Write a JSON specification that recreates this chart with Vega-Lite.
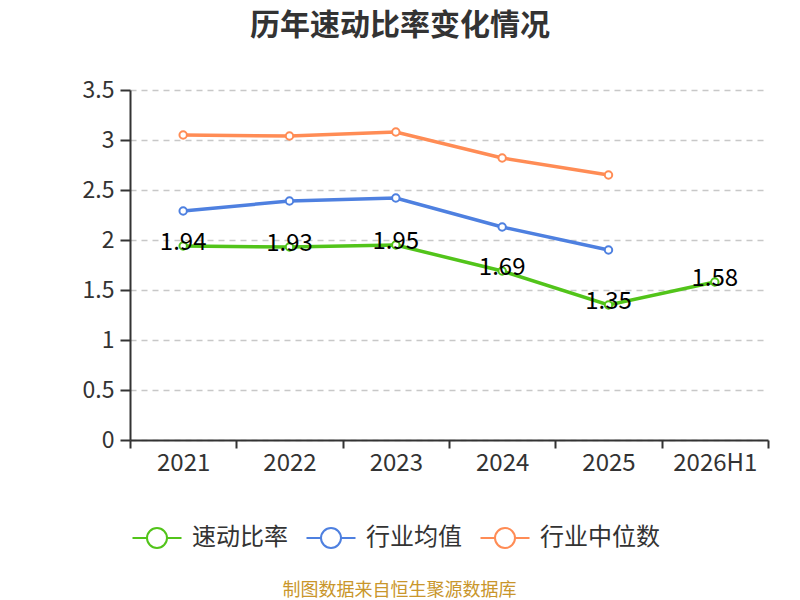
{
  "$schema": "https://vega.github.io/schema/vega-lite/v6.json",
  "width": 638,
  "height": 350,
  "autosize": {"type": "none"},
  "padding": {"left": 130, "top": 90, "right": 32, "bottom": 160},
  "background": "white",
  "title": {
    "text": "历年速动比率变化情况",
    "font": "Noto Sans CJK SC",
    "fontSize": 30,
    "fontWeight": "bold",
    "color": "#333333",
    "anchor": "middle",
    "dx": -49,
    "offset": 38
  },
  "data": {
    "values": [
      {"year": "2021", "series": "速动比率", "value": 1.94},
      {"year": "2022", "series": "速动比率", "value": 1.93},
      {"year": "2023", "series": "速动比率", "value": 1.95},
      {"year": "2024", "series": "速动比率", "value": 1.69},
      {"year": "2025", "series": "速动比率", "value": 1.35},
      {"year": "2026H1", "series": "速动比率", "value": 1.58},
      {"year": "2021", "series": "行业均值", "value": 2.29},
      {"year": "2022", "series": "行业均值", "value": 2.39},
      {"year": "2023", "series": "行业均值", "value": 2.42},
      {"year": "2024", "series": "行业均值", "value": 2.13},
      {"year": "2025", "series": "行业均值", "value": 1.9},
      {"year": "2021", "series": "行业中位数", "value": 3.05},
      {"year": "2022", "series": "行业中位数", "value": 3.04},
      {"year": "2023", "series": "行业中位数", "value": 3.08},
      {"year": "2024", "series": "行业中位数", "value": 2.82},
      {"year": "2025", "series": "行业中位数", "value": 2.65}
    ]
  },
  "encoding": {
    "x": {
      "field": "year",
      "type": "ordinal",
      "bandPosition": 0.5,
      "scale": {"type": "band", "domain": ["2021", "2022", "2023", "2024", "2025", "2026H1"], "paddingInner": 0, "paddingOuter": 0},
      "axis": {
        "title": "制图数据来自恒生聚源数据库",
        "titleFont": "Noto Sans CJK SC",
        "titleFontSize": 18,
        "titleFontWeight": "normal",
        "titleColor": "#c9962b",
        "titlePadding": 106,
        "titleX": 269,
        "titleAlign": "center",
        "labelAngle": 0,
        "labelFont": "Noto Sans CJK SC",
        "labelFontSize": 24,
        "labelColor": "#333333",
        "labelPadding": 3,
        "tickBand": "extent",
        "tickSize": 8,
        "tickWidth": 2,
        "tickColor": "#333333",
        "domainColor": "#333333",
        "domainWidth": 2,
        "grid": false
      }
    },
    "y": {
      "field": "value",
      "type": "quantitative",
      "scale": {"domain": [0, 3.5], "nice": false},
      "axis": {
        "title": null,
        "values": [0, 0.5, 1, 1.5, 2, 2.5, 3, 3.5],
        "format": "~g",
        "labelFont": "Noto Sans CJK SC",
        "labelFontSize": 23,
        "labelColor": "#333333",
        "labelPadding": 6,
        "tickSize": 10,
        "tickWidth": 2,
        "tickColor": "#333333",
        "domainColor": "#333333",
        "domainWidth": 2,
        "grid": true,
        "gridColor": "#c8c8c8",
        "gridDash": [6, 5],
        "gridWidth": 1.5
      }
    },
    "color": {
      "field": "series",
      "type": "nominal",
      "scale": {
        "domain": ["速动比率", "行业均值", "行业中位数"],
        "range": ["#52c41a", "#4e80e0", "#ff8c55"]
      },
      "legend": {
        "title": null,
        "orient": "none",
        "direction": "horizontal",
        "legendX": 15,
        "legendY": 436,
        "symbolType": "M-2.45,0L-1,0M1,0L2.45,0M1,0A1,1 0 1 1 -1,0A1,1 0 1 1 1,0",
        "symbolSize": 400,
        "symbolStrokeWidth": 2,
        "labelFont": "Noto Sans CJK SC",
        "labelFontSize": 24,
        "labelColor": "#333333",
        "labelOffset": 23,
        "columnPadding": 14,
        "encode": {
          "symbols": {"update": {"fill": {"value": "white"}, "fillOpacity": {"value": 1}}}
        }
      }
    }
  },
  "layer": [
    {
      "mark": {"type": "line", "strokeWidth": 3.5}
    },
    {
      "mark": {"type": "point", "filled": false, "fill": "white", "fillOpacity": 1, "strokeWidth": 2, "size": 55, "opacity": 1}
    },
    {
      "transform": [{"filter": "datum.series === '速动比率'"}],
      "mark": {"type": "text", "font": "Noto Sans CJK SC", "fontSize": 24, "baseline": "middle", "align": "center", "dy": -3},
      "encoding": {
        "text": {"field": "value", "type": "quantitative", "format": ".2f"},
        "color": {"value": "black"}
      }
    }
  ],
  "config": {
    "view": {"stroke": null}
  }
}
